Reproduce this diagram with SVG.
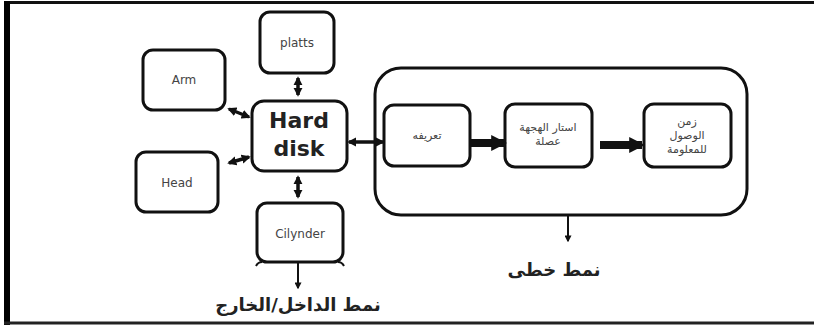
<svg xmlns="http://www.w3.org/2000/svg" width="814" height="328" viewBox="0 0 814 328">
<style>
.box{fill:#fff;stroke:#111;stroke-width:3}
.lbl{font-family:"DejaVu Sans",Verdana,sans-serif;font-size:12px;fill:#444;text-anchor:middle}
.ar{font-family:"DejaVu Sans","Noto Sans",sans-serif;font-size:11px;fill:#444;text-anchor:middle}
.big{font-family:"DejaVu Sans",Verdana,sans-serif;font-size:22px;font-weight:bold;fill:#222;text-anchor:middle}
.cap{font-family:"DejaVu Sans","Noto Sans",sans-serif;font-size:18px;font-weight:bold;fill:#222;text-anchor:middle}
.c{stroke:#111;stroke-width:3.5;fill:none}
.t{stroke:#111;stroke-width:8;fill:none}
</style>
<defs>
<marker id="ah" viewBox="0 0 10 10" refX="8" refY="5" markerWidth="2.6" markerHeight="3" orient="auto-start-reverse"><path d="M0,0L10,5L0,10z" fill="#111"/></marker>
<marker id="ad" viewBox="0 0 10 10" refX="8" refY="5" markerWidth="3.5" markerHeight="3.5" orient="auto"><path d="M0,0L10,5L0,10z" fill="#111"/></marker>
<marker id="ab" viewBox="0 0 10 10" refX="8" refY="5" markerWidth="2" markerHeight="2.4" orient="auto"><path d="M0,0L10,5L0,10z" fill="#111"/></marker>
</defs>
<rect x="0" y="0" width="814" height="328" fill="#fff"/>
<g id="frame">
<line x1="4" y1="2.5" x2="814" y2="2.5" stroke="#111" stroke-width="3"/>
<line x1="7" y1="1" x2="7" y2="325" stroke="#000" stroke-width="6"/>
<line x1="4" y1="323" x2="814" y2="323" stroke="#222" stroke-width="3"/>
</g>
<g id="platts"><rect class="box" x="260" y="12" width="74" height="61" rx="10"/><text class="lbl" x="297" y="47">platts</text></g>
<g id="arm"><rect class="box" x="143" y="50" width="82" height="60" rx="10"/><text class="lbl" x="184" y="84">Arm</text></g>
<g id="head"><rect class="box" x="136" y="152" width="82" height="60" rx="10"/><text class="lbl" x="177" y="187">Head</text></g>
<g id="harddisk"><rect class="box" x="252" y="101" width="95" height="70" rx="12"/><text class="big" x="299" y="128">Hard</text><text class="big" x="299" y="156">disk</text></g>
<g id="cilynder"><rect class="box" x="257" y="203" width="86" height="59" rx="10"/><text class="lbl" x="300" y="238">Cilynder</text>
<path d="M262,262 q-4,0 -6,4 M338,262 q4,0 6,4" stroke="#111" stroke-width="2" fill="none"/></g>
<g id="linear"><rect class="box" x="375" y="68" width="372" height="147" rx="26"/></g>
<g id="def"><rect class="box" x="384" y="105" width="86" height="61" rx="10"/><text class="ar" x="427" y="139" direction="rtl">تعريفه</text></g>
<g id="mid"><rect class="box" x="505" y="104" width="87" height="63" rx="10"/><text class="ar" x="548" y="131" direction="rtl">استار الهجهة</text><text class="ar" x="548" y="145" direction="rtl">عصلة</text></g>
<g id="access"><rect class="box" x="644" y="104" width="87" height="63" rx="10"/><text class="ar" x="687" y="125" direction="rtl">زمن</text><text class="ar" x="687" y="139" direction="rtl">الوصول</text><text class="ar" x="687" y="153" direction="rtl">للمعلومة</text></g>
<g id="connectors">
<line class="c" x1="298" y1="78" x2="298" y2="95" marker-start="url(#ah)" marker-end="url(#ah)"/>
<line class="c" x1="298" y1="177" x2="298" y2="197" marker-start="url(#ah)" marker-end="url(#ah)"/>
<line class="c" x1="229" y1="109" x2="249" y2="117" marker-start="url(#ah)" marker-end="url(#ah)"/>
<line class="c" x1="229" y1="163" x2="249" y2="157" marker-start="url(#ah)" marker-end="url(#ah)"/>
<line class="c" x1="349" y1="142" x2="383" y2="142" marker-start="url(#ah)" marker-end="url(#ah)"/>
<line class="t" x1="471" y1="143" x2="504" y2="143" marker-end="url(#ab)"/>
<line class="t" x1="600" y1="145" x2="642" y2="145" marker-end="url(#ab)"/>
<line stroke="#111" stroke-width="2" x1="298" y1="262" x2="298" y2="288" marker-end="url(#ad)"/>
<line stroke="#111" stroke-width="2" x1="568" y1="215" x2="568" y2="241" marker-end="url(#ad)"/>
</g>
<text class="cap" x="554" y="276" direction="rtl">نمط خطى</text>
<text class="cap" x="298" y="311" direction="rtl">نمط الداخل/الخارج</text>
</svg>
